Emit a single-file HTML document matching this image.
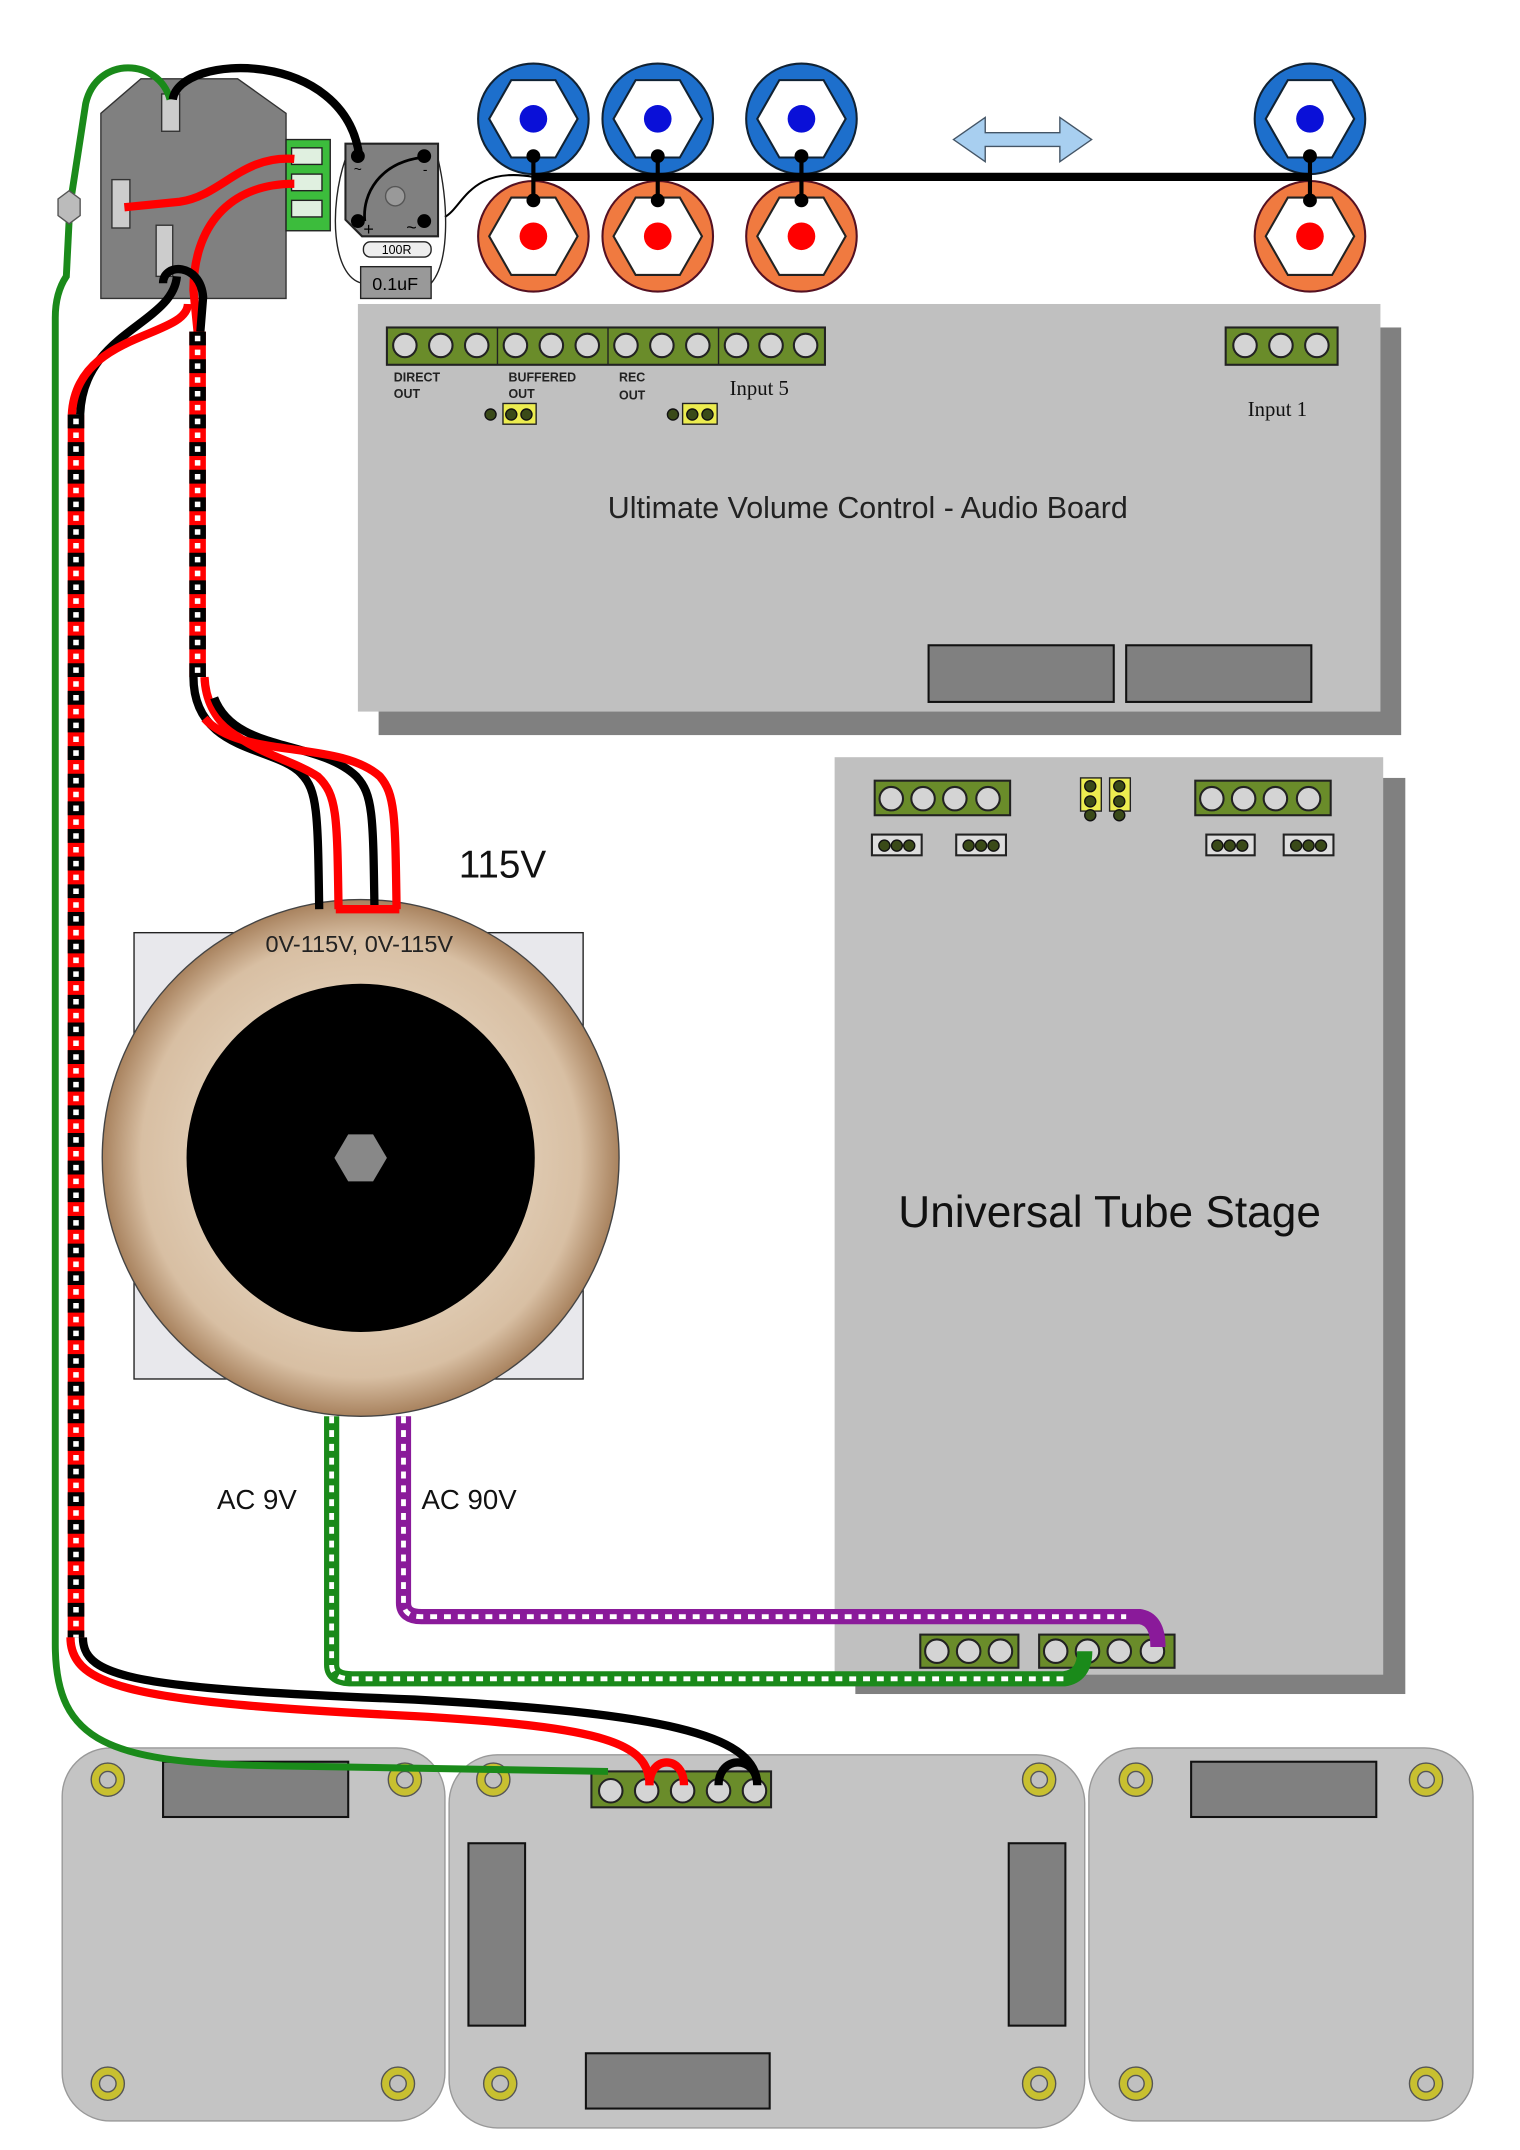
<!DOCTYPE html>
<html><head><meta charset="utf-8"><style>html,body{margin:0;padding:0;background:#fff}svg{display:block}</style></head>
<body>
<svg width="1520" height="2150" viewBox="0 0 1100 1556" preserveAspectRatio="none" xmlns="http://www.w3.org/2000/svg" font-family="Liberation Sans, sans-serif">
<defs>
<radialGradient id="tor" cx="0.5" cy="0.5" r="0.5">
<stop offset="0.6" stop-color="#e0ccb4"/><stop offset="0.85" stop-color="#d8bfa3"/><stop offset="1" stop-color="#a8825e"/>
</radialGradient>
<g id="rcaB"><circle r="40" fill="#1d6fcc" stroke="#123" stroke-width="1.5"/><polygon points="32,0 16,28 -16,28 -32,0 -16,-28 16,-28" fill="#fff" stroke="#123" stroke-width="1.5"/><circle r="10" fill="#0a10d8"/></g>
<g id="rcaR"><circle r="40" fill="#f07a40" stroke="#512" stroke-width="1.5"/><polygon points="32,0 16,28 -16,28 -32,0 -16,-28 16,-28" fill="#fff" stroke="#222" stroke-width="1.5"/><circle r="10" fill="#f00"/></g>
<g id="hole"><circle r="12" fill="#c8c030" stroke="#555" stroke-width="1"/><circle r="6" fill="#c0c0c0" stroke="#555" stroke-width="1"/></g>
<g id="tc"><circle r="8.5" fill="#d4d4d4" stroke="#222" stroke-width="1.5"/></g>
<g id="sm"><circle r="4" fill="#3a4a18" stroke="#111"/></g>
</defs>

<!-- Audio board -->
<rect x="274" y="237" width="740" height="295" fill="#808080"/>
<rect x="259" y="220" width="740" height="295" fill="#c0c0c0"/>
<rect x="280" y="237" width="317" height="27" fill="#6a8c2a" stroke="#222" stroke-width="1.5"/>
<line x1="360" y1="237" x2="360" y2="264" stroke="#222"/><line x1="440" y1="237" x2="440" y2="264" stroke="#222"/><line x1="520" y1="237" x2="520" y2="264" stroke="#222"/>
<g transform="translate(0,250)">
<use href="#tc" x="293"/><use href="#tc" x="319"/><use href="#tc" x="345"/>
<use href="#tc" x="373"/><use href="#tc" x="399"/><use href="#tc" x="425"/>
<use href="#tc" x="453"/><use href="#tc" x="479"/><use href="#tc" x="505"/>
<use href="#tc" x="533"/><use href="#tc" x="558"/><use href="#tc" x="583"/>
</g>
<rect x="887" y="237" width="81" height="27" fill="#6a8c2a" stroke="#222" stroke-width="1.5"/>
<g transform="translate(0,250)"><use href="#tc" x="901"/><use href="#tc" x="927"/><use href="#tc" x="953"/></g>
<g font-size="9" font-weight="bold" fill="#222">
<text x="285" y="276">DIRECT</text><text x="285" y="288">OUT</text>
<text x="368" y="276">BUFFERED</text><text x="368" y="288">OUT</text>
<text x="448" y="276">REC</text><text x="448" y="289">OUT</text>
</g>
<g font-family="Liberation Serif, serif" font-size="15" fill="#111"><text x="528" y="286">Input 5</text><text x="903" y="301">Input 1</text></g>
<rect x="364" y="292" width="24" height="15" fill="#ecec50" stroke="#222"/><use href="#sm" x="355" y="300"/><use href="#sm" x="370" y="300"/><use href="#sm" x="381" y="300"/>
<rect x="494" y="292" width="25" height="15" fill="#ecec50" stroke="#222"/><use href="#sm" x="487" y="300"/><use href="#sm" x="501" y="300"/><use href="#sm" x="512" y="300"/>
<text x="628" y="375" font-size="22" text-anchor="middle" fill="#222">Ultimate Volume Control - Audio Board</text>
<rect x="672" y="467" width="134" height="41" fill="#808080" stroke="#111" stroke-width="1.5"/>
<rect x="815" y="467" width="134" height="41" fill="#808080" stroke="#111" stroke-width="1.5"/>

<!-- Tube stage -->
<rect x="619" y="563" width="398" height="663" fill="#808080"/>
<rect x="604" y="548" width="397" height="664" fill="#c0c0c0"/>
<rect x="633" y="565" width="98" height="25" fill="#6a8c2a" stroke="#222" stroke-width="1.5"/>
<g transform="translate(0,578)"><use href="#tc" x="645"/><use href="#tc" x="668"/><use href="#tc" x="691"/><use href="#tc" x="715"/></g>
<rect x="865" y="565" width="98" height="25" fill="#6a8c2a" stroke="#222" stroke-width="1.5"/>
<g transform="translate(0,578)"><use href="#tc" x="877"/><use href="#tc" x="900"/><use href="#tc" x="923"/><use href="#tc" x="947"/></g>
<g fill="#ddd" stroke="#222" stroke-width="1.5">
<rect x="631" y="604" width="36" height="15"/><rect x="692" y="604" width="36" height="15"/><rect x="873" y="604" width="35" height="15"/><rect x="929" y="604" width="36" height="15"/></g>
<g transform="translate(0,612)">
<use href="#sm" x="640"/><use href="#sm" x="649"/><use href="#sm" x="658"/>
<use href="#sm" x="701"/><use href="#sm" x="710"/><use href="#sm" x="719"/>
<use href="#sm" x="881"/><use href="#sm" x="890"/><use href="#sm" x="899"/>
<use href="#sm" x="938"/><use href="#sm" x="947"/><use href="#sm" x="956"/></g>
<rect x="782" y="563" width="15" height="24" fill="#ecec50" stroke="#222"/><rect x="803" y="563" width="15" height="24" fill="#ecec50" stroke="#222"/>
<use href="#sm" x="789" y="569"/><use href="#sm" x="789" y="580"/><use href="#sm" x="789" y="590"/>
<use href="#sm" x="810" y="569"/><use href="#sm" x="810" y="580"/><use href="#sm" x="810" y="590"/>
<text x="803" y="888" font-size="32" text-anchor="middle" fill="#111">Universal Tube Stage</text>
<rect x="666" y="1183" width="71" height="24" fill="#6a8c2a" stroke="#222" stroke-width="1.5"/>
<g transform="translate(0,1195)"><use href="#tc" x="678"/><use href="#tc" x="701"/><use href="#tc" x="724"/></g>
<rect x="752" y="1183" width="98" height="24" fill="#6a8c2a" stroke="#222" stroke-width="1.5"/>
<g transform="translate(0,1195)"><use href="#tc" x="764"/><use href="#tc" x="787"/><use href="#tc" x="810"/><use href="#tc" x="834"/></g>

<!-- Bottom panels -->
<g fill="#c4c4c4" stroke="#999" stroke-width="1">
<rect x="45" y="1265" width="277" height="270" rx="35"/>
<rect x="788" y="1265" width="278" height="270" rx="35"/>
<rect x="325" y="1270" width="460" height="270" rx="35"/>
</g>
<g fill="#808080" stroke="#111" stroke-width="1.5">
<rect x="118" y="1275" width="134" height="40"/><rect x="862" y="1275" width="134" height="40"/>
<rect x="339" y="1334" width="41" height="132"/><rect x="730" y="1334" width="41" height="132"/>
<rect x="424" y="1486" width="133" height="40"/></g>
<use href="#hole" x="78" y="1288"/><use href="#hole" x="293" y="1288"/><use href="#hole" x="78" y="1508"/><use href="#hole" x="288" y="1508"/>
<use href="#hole" x="357" y="1288"/><use href="#hole" x="752" y="1288"/><use href="#hole" x="362" y="1508"/><use href="#hole" x="752" y="1508"/>
<use href="#hole" x="822" y="1288"/><use href="#hole" x="1032" y="1288"/><use href="#hole" x="822" y="1508"/><use href="#hole" x="1032" y="1508"/>
<rect x="428" y="1282" width="130" height="26" fill="#6a8c2a" stroke="#222" stroke-width="1.5"/>
<g transform="translate(0,1296)"><use href="#tc" x="442"/><use href="#tc" x="468"/><use href="#tc" x="494"/><use href="#tc" x="520"/><use href="#tc" x="546"/></g>

<!-- Transformer -->
<rect x="97" y="675" width="325" height="323" fill="#e8e8ec" stroke="#222" stroke-width="1"/>
<circle cx="261" cy="838" r="187" fill="url(#tor)" stroke="#444" stroke-width="1"/>
<circle cx="261" cy="838" r="126" fill="#000"/>
<polygon points="280,838 270,855 252,855 242,838 252,821 270,821" fill="#888"/>
<text x="332" y="635" font-size="28" fill="#111">115V</text>
<text x="260" y="689" font-size="17" text-anchor="middle" fill="#222">0V-115V, 0V-115V</text>

<!-- RCA jacks -->
<use href="#rcaB" x="386" y="86"/><use href="#rcaB" x="476" y="86"/><use href="#rcaB" x="580" y="86"/><use href="#rcaB" x="948" y="86"/>
<use href="#rcaR" x="386" y="171"/><use href="#rcaR" x="476" y="171"/><use href="#rcaR" x="580" y="171"/><use href="#rcaR" x="948" y="171"/>
<line x1="386" y1="128" x2="948" y2="128" stroke="#000" stroke-width="6"/>
<g stroke="#000" stroke-width="3"><line x1="386" y1="112" x2="386" y2="145"/><line x1="476" y1="112" x2="476" y2="145"/><line x1="580" y1="112" x2="580" y2="145"/><line x1="948" y1="112" x2="948" y2="145"/></g>
<g fill="#000"><circle cx="386" cy="113" r="5"/><circle cx="386" cy="145" r="5"/><circle cx="476" cy="113" r="5"/><circle cx="476" cy="145" r="5"/><circle cx="580" cy="113" r="5"/><circle cx="580" cy="145" r="5"/><circle cx="948" cy="113" r="5"/><circle cx="948" cy="145" r="5"/></g>
<path d="M690,101 L713,85 L713,96 L767,96 L767,85 L790,101 L767,117 L767,106 L713,106 L713,117 Z" fill="#a8cff0" stroke="#456" stroke-width="1"/>
<path d="M322,157 C335,150 340,120 386,128" fill="none" stroke="#000" stroke-width="1.5"/>

<!-- Inlet -->
<polygon points="102,57 172,57 207,82 207,216 73,216 73,82" fill="#808080" stroke="#333" stroke-width="1"/>
<rect x="117" y="68" width="13" height="27" fill="#ccc" stroke="#333"/>
<rect x="81" y="130" width="13" height="35" fill="#ccc" stroke="#333"/>
<rect x="113" y="163" width="12" height="37" fill="#ccc" stroke="#333"/>
<rect x="207" y="101" width="32" height="66" fill="#3cbc3c" stroke="#222"/>
<g fill="#e0f0e0" stroke="#222"><rect x="211" y="107" width="22" height="12"/><rect x="211" y="126" width="22" height="12"/><rect x="211" y="145" width="22" height="12"/></g>
<!-- rectifier -->
<polygon points="250,104 317,104 317,171 262,171 250,159" fill="#808080" stroke="#222" stroke-width="1.5"/>
<circle cx="286" cy="142" r="7" fill="#999" stroke="#555"/>
<path d="M264,160 C262,140 275,118 305,114" fill="none" stroke="#000" stroke-width="2"/>
<g fill="#000"><circle cx="259" cy="113" r="5"/><circle cx="307" cy="113" r="5"/><circle cx="259" cy="160" r="5"/><circle cx="307" cy="160" r="5"/></g>
<text x="263" y="170" font-size="13">+</text><text x="294" y="169" font-size="13">~</text><text x="256" y="126" font-size="10">~</text><text x="306" y="126" font-size="10">-</text>
<path d="M250,115 C238,150 240,200 262,205 M317,115 C325,150 325,190 312,205" fill="none" stroke="#222" stroke-width="1"/>
<rect x="263" y="175" width="49" height="11" rx="5" fill="#eee" stroke="#222"/><text x="287" y="184" font-size="9" text-anchor="middle">100R</text>
<rect x="261" y="193" width="51" height="23" fill="#999" stroke="#222"/><text x="286" y="210" font-size="13" text-anchor="middle">0.1uF</text>

<!-- Wires -->
<g fill="none" stroke-linecap="butt">
<path d="M123,72 C115,42 70,40 62,75 L52,140 M50,160 L48,200 Q40,212 40,230 L40,1190 C40,1262 80,1276 200,1278 L440,1282" stroke="#1a8a1a" stroke-width="5"/>
<polygon points="50,138 58,144 58,156 50,162 42,156 42,144" fill="#bbb" stroke="#555"/>
<path d="M125,72 C130,38 250,35 260,113" stroke="#000" stroke-width="6"/>
<path d="M213,115 C175,112 160,142 130,146 L90,150" stroke="#f00" stroke-width="6"/>
<path d="M213,133 C165,133 140,165 140,210 L143,240" stroke="#f00" stroke-width="6"/>
<path d="M118,205 C118,190 145,190 147,215 L145,240" stroke="#000" stroke-width="6"/>
<path d="M128,200 C125,235 60,240 58,300" stroke="#000" stroke-width="6"/>
<path d="M136,220 C135,245 55,240 52,300" stroke="#f00" stroke-width="6"/>
<!-- right twisted pair -->
<path d="M143,240 L143,490" stroke="#f00" stroke-width="12"/>
<path d="M143,240 L143,490" stroke="#000" stroke-width="12" stroke-dasharray="10 10"/>
<path d="M143,240 L143,490" stroke="#fff" stroke-width="4" stroke-dasharray="4 6" stroke-dashoffset="-3"/>
<path d="M140,490 C140,545 200,540 218,560 C230,572 230,590 231,658" stroke="#000" stroke-width="6"/>
<path d="M148,490 C150,540 205,545 230,562 C244,575 244,590 245,658" stroke="#f00" stroke-width="6"/>
<path d="M155,505 C170,545 230,535 258,562 C270,575 270,590 271,658" stroke="#000" stroke-width="6"/>
<path d="M148,520 C175,550 245,535 275,562 C286,575 286,590 287,658" stroke="#f00" stroke-width="6"/>
<line x1="243" y1="658" x2="289" y2="658" stroke="#f00" stroke-width="6"/>
<!-- left twisted pair -->
<path d="M55,300 L55,1185" stroke="#f00" stroke-width="12"/>
<path d="M55,300 L55,1185" stroke="#000" stroke-width="12" stroke-dasharray="10 10"/>
<path d="M55,300 L55,1185" stroke="#fff" stroke-width="4" stroke-dasharray="4 6" stroke-dashoffset="-3"/>
<path d="M60,1185 C60,1215 100,1222 300,1230 C480,1240 545,1255 548,1290" stroke="#000" stroke-width="6"/>
<path d="M51,1185 C51,1222 100,1232 300,1242 C440,1250 470,1262 470,1292" stroke="#f00" stroke-width="6"/>
<path d="M470,1292 C470,1270 495,1270 495,1292" stroke="#f00" stroke-width="6"/>
<path d="M520,1292 C520,1270 548,1270 548,1292" stroke="#000" stroke-width="6"/>
<!-- AC 9V green -->
<path d="M240,1025 L240,1205 Q240,1215 255,1215 L770,1215 Q785,1213 785,1195" stroke="#1a8a1a" stroke-width="11"/>
<path d="M240,1025 L240,1205 Q240,1215 255,1215 L770,1215" stroke="#fff" stroke-width="3.5" stroke-dasharray="5 5"/>
<!-- AC 90V purple -->
<path d="M292,1025 L292,1160 Q292,1170 305,1170 L825,1170 Q838,1172 838,1192" stroke="#8a1a9a" stroke-width="11"/>
<path d="M292,1025 L292,1160 Q292,1170 305,1170 L815,1170" stroke="#fff" stroke-width="3.5" stroke-dasharray="5 5"/>
</g>
<text x="157" y="1092" font-size="20" fill="#111">AC 9V</text>
<text x="305" y="1092" font-size="20" fill="#111">AC 90V</text>
</svg>
</body></html>
